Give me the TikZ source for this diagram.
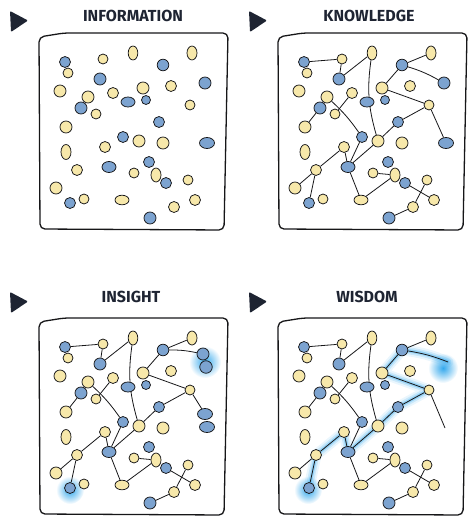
\documentclass[tikz,border=0pt]{standalone}
\usepackage{fontspec}
\setmainfont{Fira Sans}
\usetikzlibrary{positioning, shapes.geometric, fadings, backgrounds}

\definecolor{dotyellow}{RGB}{247,232,170}
\definecolor{dotblue}{RGB}{124,163,208}
\definecolor{inkline}{RGB}{22,22,24}
\definecolor{headnavy}{RGB}{30,36,50}
\definecolor{glowblue}{RGB}{52,168,236}

\tikzfading[name=glowfade, inner color=transparent!0, outer color=transparent!100]

\begin{document}
\begin{tikzpicture}[x=1pt, y=-1pt,
  datum/.style={ellipse, draw=inkline, line width=0.75pt, inner sep=0pt},
  edgeline/.style={draw=inkline, line width=0.8pt},
  frame/.style={draw=inkline, line width=1.3pt, rounded corners=5pt},
  heading/.style={font=\bfseries\fontsize{16}{16}\selectfont, text=headnavy, inner sep=0pt},
  glowtrail/.style={draw=glowblue, line cap=round, line join=round}
]
\useasboundingbox (0,0) rectangle (469,519);

% Panels: header, frame and data points
\foreach \p/\dx/\dy/\hy/\tx/\name in {i/0/0/0/133/INFORMATION, k/239/0/0/130/KNOWLEDGE, s/0/285/281/131/INSIGHT, w/239/285/281/128/WISDOM} {
  \begin{scope}[shift={(\dx,\hy)}]
    \fill[headnavy, rounded corners=1pt] (10,11) -- (28,20.5) -- (11,32) -- cycle;
    \node[heading] (\p title) at (\tx,16) {\name};
  \end{scope}
  \begin{scope}[shift={(\dx,\dy)}]
    \draw[frame] (39,37) -- (64,33) -- (228,33) -- (224,230) -- (40,229) -- cycle;
    \foreach \n/\x/\y/\c/\rx/\ry in {
      1/65/62/dotblue/5.5/5.5, 2/68/73/dotyellow/5/5, 3/103/59/dotyellow/5/5,
      4/133/53/dotyellow/4.8/7, 5/192/53/dotyellow/5/7, 6/163/65/dotblue/5.8/5.8,
      7/100/79/dotblue/6/6, 9/60/91/dotyellow/6/6, 10/88/97/dotyellow/6/6,
      11/113/93/dotyellow/5.5/5.5, 12/143/88/dotyellow/6/6, 13/171/86/dotyellow/5.5/5.5,
      14/128/102/dotblue/7/5, 15/146/100/dotblue/4.5/4.5, 16/81/108/dotblue/6/6,
      17/96/114/dotyellow/5/5, 18/190/105/dotyellow/5/5, 19/66/127/dotyellow/6/6,
      20/159/122/dotblue/5.5/5.5, 21/123/137/dotblue/5.5/5.5, 22/139/141/dotyellow/6/6,
      23/163/143/dotyellow/6/6, 25/105/147/dotyellow/5.5/5.5, 26/66/152/dotyellow/5/7.5,
      27/109/167/dotblue/7/5.5, 28/149/162/dotblue/5.5/5.5, 29/77/170/dotyellow/5.5/5.5,
      30/134/173/dotyellow/5/5, 31/156/175/dotyellow/5/7, 32/166/183/dotblue/5.5/5.5,
      33/188/180/dotyellow/5/5, 34/56/188/dotyellow/6/6, 35/70/203/dotblue/5.5/5.5,
      36/84/199/dotyellow/5/5, 37/122/200/dotyellow/7/4.8, 38/174/207/dotyellow/5.5/5.5,
      39/195/200/dotyellow/5.5/5.5, 40/150/218/dotblue/6/6}
      \node[datum, fill=\c, minimum width={2*\rx*1pt}, minimum height={2*\ry*1pt}] (\p\n) at (\x,\y) {};
  \end{scope}
}

% Points that change from panel to panel
\node[datum, fill=dotblue, minimum size=12pt] (i8) at (205,83) {};
\node[datum, fill=dotblue, minimum width=15pt, minimum height=11pt] (i24) at (207,143) {};
\node[datum, fill=dotblue, minimum size=12pt] (k8) at (444,83) {};
\node[datum, fill=dotblue, minimum width=15pt, minimum height=11pt] (k24) at (446,143) {};
\node[datum, fill=dotblue, minimum size=12pt] (s8) at (203,354) {};
\node[datum, fill=dotblue, minimum size=12.5pt] (s8b) at (206,367) {};
\node[datum, fill=dotblue, minimum width=15pt, minimum height=11pt] (s24) at (205,414) {};
\node[datum, fill=dotblue, minimum width=15pt, minimum height=11pt] (s24b) at (207,427) {};
\coordinate (w8) at (448,362);
\coordinate (w24) at (445,428);

\begin{scope}[on background layer]
  % Glow of insight
  \fill[glowblue, path fading=glowfade] (205,362) circle[radius=16pt];
  \fill[glowblue, path fading=glowfade] (70,490) circle[radius=14pt];
  % Glow of wisdom
  \foreach \lw/\op in {11/0.10, 7/0.18, 3.5/0.35}
    \draw[glowtrail, line width=\lw pt, opacity=\op] (w35.center) -- (w29.center) -- (w25.center)
      -- (w27.center) -- (w22.center) -- (w20.center) -- (w18.center) -- (w12.center)
      -- (w6.center) to[bend left=8] (w8);
  \fill[glowblue, path fading=glowfade] (443,368) circle[radius=15pt];
  \fill[glowblue, path fading=glowfade] (308,490) circle[radius=14pt];

  % Connections
  \foreach \p in {k,s,w}
    \foreach \a/\b/\bend in {1/3/0, 3/7/0, 7/4/0, 4/22/-12, 6/5/0, 6/8/6, 6/12/0, 12/18/0,
      18/20/0, 20/22/0, 18/24/0, 11/17/0, 16/19/0, 10/21/6, 21/27/0, 22/27/0, 25/27/0,
      25/29/0, 29/34/0, 29/35/0, 27/37/0, 37/31/0, 30/31/0, 32/39/0, 33/38/0, 38/40/0}
      \draw[edgeline] (\p\a) to[bend left=\bend] (\p\b);
\end{scope}

\end{tikzpicture}
\end{document}
